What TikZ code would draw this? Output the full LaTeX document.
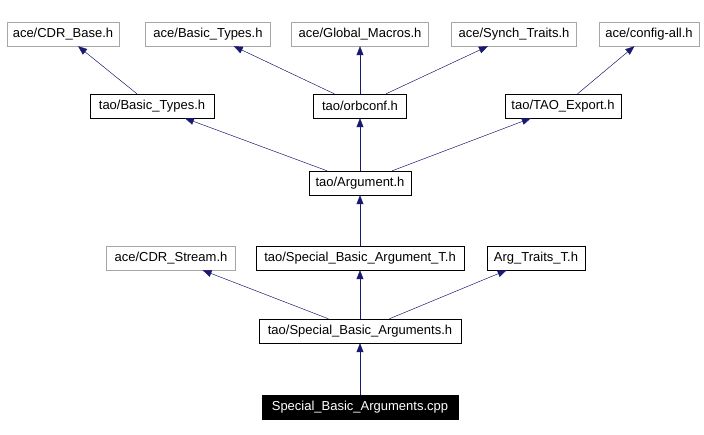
\documentclass[tikz,border=0pt]{standalone}
\usepackage{fontspec}
\setmainfont{Liberation Sans}
\usetikzlibrary{arrows.meta}
\definecolor{edge}{RGB}{25,25,112}
\begin{document}
\begin{tikzpicture}[x=1pt,y=-1pt,
  box/.style={draw=black,fill=white,minimum height=24pt,inner sep=0pt,font=\fontsize{13}{15}\selectfont},
  gbox/.style={box,draw=gray!70},
  dark/.style={box,fill=black,text=white},
  arr/.style={draw=edge,-{Triangle[length=9pt,width=7pt]},fill=edge}]
\useasboundingbox (0,0) rectangle (704,435);
\node[gbox,minimum width=112] (cdrb) at (63,34) {ace/CDR\_Base.h};
\node[gbox,minimum width=125] (abt) at (208,34) {ace/Basic\_Types.h};
\node[gbox,minimum width=137] (agm) at (360,34) {ace/Global\_Macros.h};
\node[gbox,minimum width=125] (ast) at (514,34) {ace/Synch\_Traits.h};
\node[gbox,minimum width=100] (aca) at (649,34) {ace/config-all.h};
\node[box,minimum width=124] (tbt) at (152,106) {tao/Basic\_Types.h};
\node[box,minimum width=93] (orb) at (360,106) {tao/orbconf.h};
\node[box,minimum width=116] (tex) at (563,106) {tao/TAO\_Export.h};
\node[box,minimum width=102] (targ) at (360,183) {tao/Argument.h};
\node[gbox,minimum width=129] (cdrs) at (171,258) {ace/CDR\_Stream.h};
\node[box,minimum width=208] (sbat) at (360,258) {tao/Special\_Basic\_Argument\_T.h};
\node[box,minimum width=98] (att) at (536,258) {Arg\_Traits\_T.h};
\node[box,minimum width=202] (sbas) at (360,331) {tao/Special\_Basic\_Arguments.h};
\node[dark,minimum width=196] (cpp) at (360,407) {Special\_Basic\_Arguments.cpp};
\draw[arr] (tbt) -- (cdrb);
\draw[arr] (orb) -- (abt);
\draw[arr] (orb) -- (agm);
\draw[arr] (orb) -- (ast);
\draw[arr] (tex) -- (aca);
\draw[arr] (targ) -- (tbt);
\draw[arr] (targ) -- (orb);
\draw[arr] (targ) -- (tex);
\draw[arr] (sbat) -- (targ);
\draw[arr] (sbas) -- (cdrs);
\draw[arr] (sbas) -- (sbat);
\draw[arr] (sbas) -- (att);
\draw[arr] (cpp) -- (sbas);
\end{tikzpicture}
\end{document}
